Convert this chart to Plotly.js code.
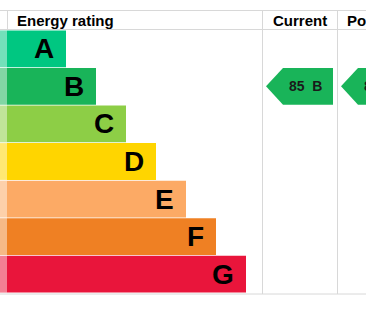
<!DOCTYPE html>
<html>
<head>
<meta charset="utf-8">
<script src="https://cdn.plot.ly/plotly-3.0.1.min.js"></script>
<style>html,body{margin:0;padding:0;background:#fff;}#chart{width:366px;height:311px;}</style>
</head>
<body>
<div id="chart"></div>
<script>
// ---- data ----
var bands = ["A", "B", "C", "D", "E", "F", "G"];
var barLengths = [59, 89, 119, 149, 179, 209, 239];
var bandColors = ["#00c781", "#19b459", "#8dce46", "#ffd500", "#fcaa65", "#ef8023", "#e9153b"];
var bandMins = [92, 81, 69, 55, 39, 21, 1];
var columnTitles = ["Energy rating", "Current", "Potential"];
var ratingScores = [85, 86];   // current, potential

// ---- layout helpers ----
var W = 366, H = 311;
var x0px = 7;                 // left edge of bars
var rowTopPx = 30, rowBotPx = 293;
var rowH = (rowBotPx - rowTopPx) / bands.length;
var yTop = -0.5 - rowTopPx / rowH;
var yBot = (bands.length - 0.5) + (H - rowBotPx) / rowH;
function py(p) { return 1 - p / H; }          // pixel -> paper
function dx(p) { return p - x0px; }           // pixel -> data x

var idx = bands.map(function (b, i) { return i; });
var font = "Liberation Sans, Arial, sans-serif";

var traces = [];
// faded left strip
traces.push({
  type: "bar", orientation: "h", y: idx, x: bands.map(function () { return x0px; }),
  base: -x0px, marker: { color: bandColors, opacity: 0.55, line: { width: 0 } },
  hoverinfo: "skip", showlegend: false
});
// main bars
traces.push({
  type: "bar", orientation: "h", y: idx, x: barLengths, base: 0,
  marker: { color: bandColors, line: { width: 0 } },
  hoverinfo: "skip", showlegend: false
});

var annotations = [];
bands.forEach(function (b, i) {
  annotations.push({
    x: barLengths[i] - 10, y: i, xref: "x", yref: "y", text: b, showarrow: false,
    xanchor: "right", yanchor: "middle",
    font: { family: font, size: 28, color: "#000", weight: "bold" }
  });
});

// header titles
var titleXpx = [15, 271, 345];
columnTitles.forEach(function (t, i) {
  annotations.push({
    x: dx(titleXpx[i]), y: py(20), xref: "x", yref: "paper", text: t, showarrow: false,
    xanchor: "left", yanchor: "middle",
    font: { family: font, size: 15, color: "#000", weight: "bold" }
  });
});

// rating arrows
function bandOf(score) {
  for (var i = 0; i < bandMins.length; i++) if (score >= bandMins[i]) return i;
  return bands.length - 1;
}
var arrowCols = [262, 337];
ratingScores.forEach(function (s, k) {
  var bi = bandOf(s);
  var tip = dx(arrowCols[k] + 4), rl = dx(arrowCols[k] + 21), rr = dx(arrowCols[k] + 71);
  var yt = bi - 0.49, yb = bi + 0.49;
  traces.push({
    type: "scatter", mode: "lines", fill: "toself", fillcolor: bandColors[bi],
    line: { width: 0, color: bandColors[bi] },
    x: [tip, rl, rr, rr, rl, tip], y: [bi, yt, yt, yb, yb, bi],
    hoverinfo: "skip", showlegend: false
  });
  annotations.push({
    x: tip + 21, y: bi, xref: "x", yref: "y",
    text: s + "\u00a0\u00a0" + bands[bi], showarrow: false,
    xanchor: "left", yanchor: "middle",
    font: { family: font, size: 14, color: "#1a1a1a", weight: "bold" }
  });
});

var lc = "#d8d8d8";
var shapes = [
  { type: "line", xref: "paper", yref: "paper", x0: 0, x1: 1, y0: py(10.5), y1: py(10.5), line: { color: lc, width: 1 } },
  { type: "line", xref: "paper", yref: "paper", x0: 0, x1: 1, y0: py(29.5), y1: py(29.5), line: { color: lc, width: 1 } },
  { type: "line", xref: "paper", yref: "paper", x0: 0, x1: 1, y0: py(294), y1: py(294), line: { color: lc, width: 1 } },
  { type: "line", xref: "x", yref: "paper", x0: dx(7.5), x1: dx(7.5), y0: py(10.5), y1: py(29.5), line: { color: lc, width: 1 } },
  { type: "line", xref: "x", yref: "paper", x0: dx(262.5), x1: dx(262.5), y0: py(10.5), y1: py(294), line: { color: lc, width: 1 } },
  { type: "line", xref: "x", yref: "paper", x0: dx(337.5), x1: dx(337.5), y0: py(10.5), y1: py(294), line: { color: lc, width: 1 } }
];

var layout = {
  width: W, height: H, margin: { l: 0, r: 0, t: 0, b: 0, pad: 0 },
  paper_bgcolor: "#fff", plot_bgcolor: "#fff",
  barmode: "overlay", bargap: 0.02,
  xaxis: { range: [-x0px, W - x0px], visible: false, fixedrange: true },
  yaxis: { range: [yBot, yTop], visible: false, fixedrange: true },
  shapes: shapes, annotations: annotations, showlegend: false
};

Plotly.newPlot("chart", traces, layout, { displayModeBar: false, staticPlot: true });
</script>
</body>
</html>
